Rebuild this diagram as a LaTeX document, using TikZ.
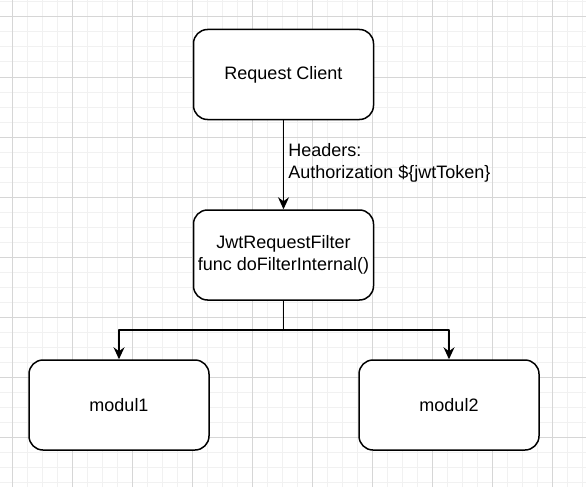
\documentclass[tikz,border=0pt]{standalone}
\usepackage{fontspec}
\setmainfont{Liberation Sans}
\usetikzlibrary{arrows.meta}
\definecolor{gridmajor}{RGB}{214,214,214}
\definecolor{gridminor}{RGB}{241,241,241}
\begin{document}
\begin{tikzpicture}[x=1pt, y=-1pt, line join=round,
	box/.style={draw, line width=1.5pt, rounded corners=14pt, minimum width=180pt, minimum height=90pt, align=center, font=\fontsize{18}{21.6}\selectfont},
	link/.style={line width=1.5pt, -{Stealth[length=12pt, width=11pt, inset=4pt]}}]
	\useasboundingbox (0,0) rectangle (586,487);
	\fill[white] (0,0) rectangle (586,487);
	\foreach \x in {12,27,...,582}\draw[gridminor, line width=1pt](\x,0)--(\x,487);
	\foreach \y in {2,17,...,482}\draw[gridminor, line width=1pt](0,\y)--(586,\y);
	\foreach \x in {12,72,...,552}\draw[gridmajor, line width=1pt](\x,0)--(\x,487);
	\foreach \y in {17,77,...,437}\draw[gridmajor, line width=1pt](0,\y)--(586,\y);
	\node[box, fill=white] (client) at (283.5,74.5) {Request Client};
	\node[box, fill=white] (filter) at (283.5,255) {JwtRequestFilter\\func doFilterInternal()};
	\node[box, fill=white] (modul1) at (119,405) {modul1};
	\node[box, fill=white] (modul2) at (449,405) {modul2};
	\coordinate (split) at (283.5,330);
	\draw[link] (client) -- node[right, pos=.48, inner sep=4pt, align=left, font=\fontsize{18}{21.6}\selectfont]{Headers:\\Authorization \$\{jwtToken\}} (filter);
	\draw[line width=1.5pt] (filter) -- (split);
	\draw[link] (split) -| (modul1);
	\draw[link] (split) -| (modul2);
\end{tikzpicture}
\end{document}
